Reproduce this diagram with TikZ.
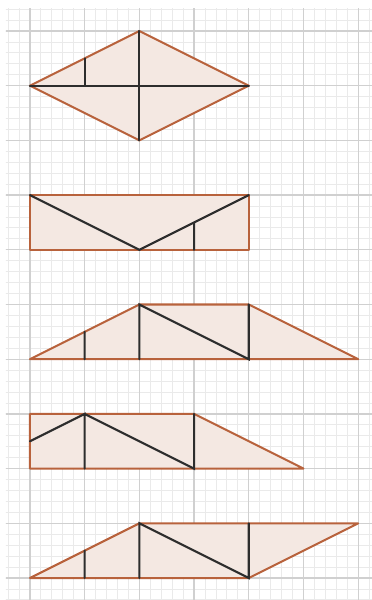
\documentclass[tikz,border=0pt]{standalone}
\definecolor{edgecol}{RGB}{184,98,60}
\definecolor{fillcol}{RGB}{244,232,226}
\definecolor{cutcol}{RGB}{45,45,45}
\definecolor{gridmajor}{RGB}{208,208,208}
\definecolor{gridminor}{RGB}{234,234,234}
\begin{document}
\begin{tikzpicture}[piece/.style = {draw=edgecol, fill=fillcol, line width=1.05pt, line join=round},
    cut/.style = {draw=cutcol, line width=1.1pt, line cap=round}]
    \useasboundingbox (-0.548,-0.402) rectangle (6.252,10.567);
    % grid paper
    \begin{scope}
    \clip (-0.44,-0.41) rectangle (6.3,10.42);
    \draw[gridminor, line width=0.45pt, step=0.2] (-0.6,-0.6) grid (6.4,10.6);
    \draw[gridmajor, line width=0.7pt, step=1] (-0.6,-0.6) grid (6.4,10.6);
    \end{scope}
    % rhombus
    \coordinate (r1) at (0,9); \coordinate (r2) at (2,10);
    \coordinate (r3) at (4,9); \coordinate (r4) at (2,8);
    \coordinate (r5) at (1,9); \coordinate (r6) at (1,9.5);
    \draw[piece] (r1) -- (r2) -- (r3) -- (r4) -- cycle;
    \draw[cut] (r1) -- (r3) (r2) -- (r4) (r5) -- (r6);
    % rectangle
    \coordinate (b1) at (0,6); \coordinate (b2) at (0,7);
    \coordinate (b3) at (4,7); \coordinate (b4) at (4,6);
    \coordinate (b5) at (2,6); \coordinate (b6) at (3,6); \coordinate (b7) at (3,6.5);
    \draw[piece] (b1) -- (b2) -- (b3) -- (b4) -- cycle;
    \draw[cut] (b2) -- (b5) -- (b3) (b6) -- (b7);
    % trapezoid
    \coordinate (t1) at (0,4); \coordinate (t2) at (2,5);
    \coordinate (t3) at (4,5); \coordinate (t4) at (6,4);
    \coordinate (t5) at (1,4); \coordinate (t6) at (1,4.5);
    \coordinate (t7) at (2,4); \coordinate (t8) at (4,4);
    \draw[piece] (t1) -- (t2) -- (t3) -- (t4) -- cycle;
    \draw[cut] (t5) -- (t6) (t7) -- (t2) -- (t8) -- (t3);
    % right trapezoid
    \coordinate (q1) at (0,2); \coordinate (q2) at (0,3);
    \coordinate (q3) at (3,3); \coordinate (q4) at (5,2);
    \coordinate (q5) at (0,2.5); \coordinate (q6) at (1,3);
    \coordinate (q7) at (1,2); \coordinate (q8) at (3,2);
    \draw[piece] (q1) -- (q2) -- (q3) -- (q4) -- cycle;
    \draw[cut] (q5) -- (q6) -- (q7) (q6) -- (q8) -- (q3);
    % parallelogram
    \coordinate (p1) at (0,0); \coordinate (p2) at (2,1);
    \coordinate (p3) at (6,1); \coordinate (p4) at (4,0);
    \coordinate (p5) at (1,0); \coordinate (p6) at (1,0.5);
    \coordinate (p7) at (2,0); \coordinate (p8) at (4,1);
    \draw[piece] (p1) -- (p2) -- (p3) -- (p4) -- cycle;
    \draw[cut] (p5) -- (p6) (p7) -- (p2) -- (p4) -- (p8);
\end{tikzpicture}
\end{document}
